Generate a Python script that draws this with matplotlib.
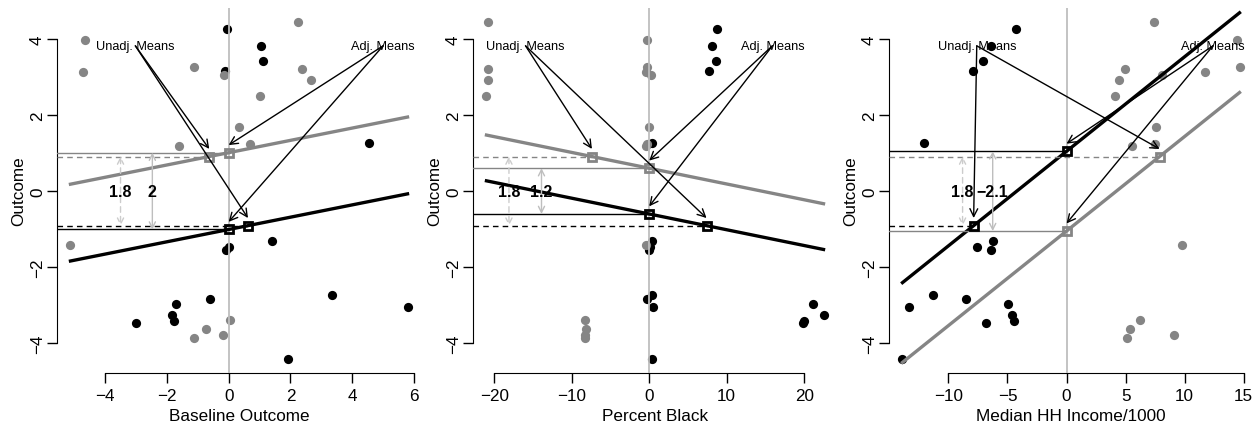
import numpy as np
import matplotlib
matplotlib.use("Agg")
import matplotlib.pyplot as plt

plt.rcParams['font.family'] = ['Liberation Sans', 'DejaVu Sans']

# outcome, two groups (same outcome in every panel)
y_black = [4.25, 3.82, 3.41, 3.17, 1.26, -1.32, -1.46, -1.54, -2.74, -2.84, -2.97, -3.06, -3.25, -3.41, -3.48, -4.42]
y_gray = [4.46, 3.97, 3.27, 3.22, 3.12, 3.04, 2.91, 2.51, 1.68, 1.24, 1.18, -1.42, -3.39, -3.63, -3.79, -3.86]

# covariates (centred)
base_black = [-0.05, 1.05, 1.12, -0.11, 4.53, 1.41, 0.00, -0.08, 3.33, -0.61, -1.70, 5.79, -1.84, -1.76, -3.00, 1.93]
base_gray = [2.24, -4.64, -1.13, 2.39, -4.73, -0.16, 2.66, 1.02, 0.33, 0.70, -1.61, -5.12, 0.03, -0.72, -0.18, -1.13]

pblack_black = [8.77, 8.09, 8.56, 7.70, 0.40, 0.40, 0.05, 0.00, 0.40, -0.25, 21.10, 0.45, 22.50, 20.00, 19.90, 0.35]
pblack_gray = [-20.8, -0.25, -0.3, -20.8, -0.4, 0.2, -20.85, -21.0, -0.05, -0.25, -0.4, -0.4, -8.25, -8.1, -8.3, -8.3]

inc_black = [-4.31, -6.42, -7.04, -7.89, -12.03, -6.20, -7.55, -6.39, -11.27, -8.54, -4.99, -13.38, -4.65, -4.42, -6.85, -13.89]
inc_gray = [7.41, 14.45, 14.65, 4.99, 11.75, 8.11, 4.45, 4.11, 7.61, 7.46, 5.52, 9.80, 6.20, 5.35, 9.10, 5.13]

xlabels = ["Baseline Outcome", "Percent Black", "Median HH Income/1000"]
xticks = [np.arange(-4, 7, 2), np.arange(-20, 21, 10), np.arange(-10, 16, 5)]
covs = [(base_black, base_gray), (pblack_black, pblack_gray), (inc_black, inc_gray)]

# where the annotations sit in each panel
lab_unadj_x = [-3.02, -15.96, -7.6]
lab_adj_x = [5.0, 15.9, 12.4]
lab_y = 3.82
diff_unadj_x = [-3.5, -18.1, -8.8]
diff_adj_x = [-2.47, -13.9, -6.25]

GRAY = '#858585'
LIGHT = '#BEBEBE'

fig = plt.figure(figsize=(12.6, 4.27), dpi=100)

yb = np.array(y_black)
yg = np.array(y_gray)
yall = np.concatenate([yb, yg])

for i in range(3):
    xb = np.array(covs[i][0])
    xg = np.array(covs[i][1])
    xall = np.concatenate([xb, xg])
    grp = np.concatenate([np.ones(len(xb)), np.zeros(len(xg))])

    # common-slope model: y ~ group + x
    X = np.column_stack([np.ones(len(xall)), grp, xall])
    coef = np.linalg.lstsq(X, yall, rcond=None)[0]
    a_g, a_b, slope = coef[0], coef[0] + coef[1], coef[2]

    ax = fig.add_axes([(57 + 416 * i) / 1260, 53.5 / 427, 364 / 1260, 364.5 / 427])
    xr = xall.max() - xall.min()
    yr = yall.max() - yall.min()
    x0, x1 = xall.min() - 0.04 * xr, xall.max() + 0.04 * xr
    ax.set_xlim(x0, x1)
    ax.set_ylim(yall.min() - 0.04 * yr, yall.max() + 0.04 * yr)

    ax.scatter(xb, yb, s=44, color='black', lw=0, zorder=2)
    ax.scatter(xg, yg, s=44, color=GRAY, lw=0, zorder=2)
    ax.axvline(0, color=LIGHT, lw=1.3, zorder=3)

    xs = np.array([xall.min(), xall.max()])
    ax.plot(xs, a_g + slope * xs, color=GRAY, lw=2.4, zorder=4)
    ax.plot(xs, a_b + slope * xs, color='black', lw=2.4, zorder=4)

    mb_x, mb_y = xb.mean(), yb.mean()
    mg_x, mg_y = xg.mean(), yg.mean()

    # horizontal guides: solid = adjusted, dashed = unadjusted
    ax.plot([x0, 0], [a_g, a_g], color=GRAY, lw=1, zorder=4)
    ax.plot([x0, 0], [a_b, a_b], color='black', lw=1, zorder=4)
    ax.plot([x0, mg_x], [mg_y, mg_y], color=GRAY, lw=1, ls=(0, (4, 3)), zorder=4)
    ax.plot([x0, mb_x], [mb_y, mb_y], color='black', lw=1, ls=(0, (4, 3)), zorder=4)

    for px, py, c in [(0, a_g, GRAY), (mg_x, mg_y, GRAY), (0, a_b, 'black'), (mb_x, mb_y, 'black')]:
        ax.plot(px, py, marker='s', ms=5.5, mfc='none', mec=c, mew=2, zorder=6)

    # difference arrows
    ax.annotate('', xy=(diff_unadj_x[i], mb_y), xytext=(diff_unadj_x[i], mg_y),
                arrowprops=dict(arrowstyle='<->', color='#CCCCCC', lw=1, ls=(0, (4, 3)),
                                shrinkA=0, shrinkB=0, mutation_scale=11), zorder=5)
    ax.annotate('', xy=(diff_adj_x[i], a_b), xytext=(diff_adj_x[i], a_g),
                arrowprops=dict(arrowstyle='<->', color=LIGHT, lw=1,
                                shrinkA=0, shrinkB=0, mutation_scale=11), zorder=5)
    d_un = round(mg_y - mb_y, 1)
    d_ad = round(a_g - a_b, 1)
    ax.text(diff_unadj_x[i], (mg_y + mb_y) / 2, f"{d_un:g}".replace('-', '\u2212'),
            ha='center', va='center', fontsize=11.5, fontweight='bold', zorder=7)
    ax.text(diff_adj_x[i], (a_g + a_b) / 2, f"{d_ad:g}".replace('-', '\u2212'),
            ha='center', va='center', fontsize=11.5, fontweight='bold', zorder=7)

    # pointer labels
    ax.text(lab_unadj_x[i], lab_y, "Unadj. Means", ha='center', va='center', fontsize=9.2, zorder=7)
    ax.text(lab_adj_x[i], lab_y, "Adj. Means", ha='center', va='center', fontsize=9.2, zorder=7)
    for tx, targets in [(lab_unadj_x[i], [(mg_x, mg_y), (mb_x, mb_y)]),
                        (lab_adj_x[i], [(0, a_g), (0, a_b)])]:
        for px, py in targets:
            ax.annotate('', xy=(px, py + 0.2), xytext=(tx, lab_y),
                        arrowprops=dict(arrowstyle='->', color='black', lw=1,
                                        shrinkA=0, shrinkB=0, mutation_scale=14), zorder=8)

    # R-style axes
    for s in ['top', 'right']:
        ax.spines[s].set_visible(False)
    ax.spines['left'].set_bounds(-4, 4)
    ax.spines['bottom'].set_bounds(xticks[i][0], xticks[i][-1])
    ax.set_xticks(xticks[i])
    ax.set_yticks([-4, -2, 0, 2, 4])
    ax.tick_params(direction='out', length=7.2, width=1, labelsize=12.3)
    ax.tick_params(axis='x', pad=4)
    ax.tick_params(axis='y', pad=1.5)
    for lab in ax.get_yticklabels():
        lab.set_rotation(90)
        lab.set_va('center')
    ax.set_xlabel(xlabels[i], fontsize=12.3, labelpad=3.5)
    ax.set_ylabel("Outcome", fontsize=12.3, labelpad=3)

fig.savefig("out.png", dpi=100)
